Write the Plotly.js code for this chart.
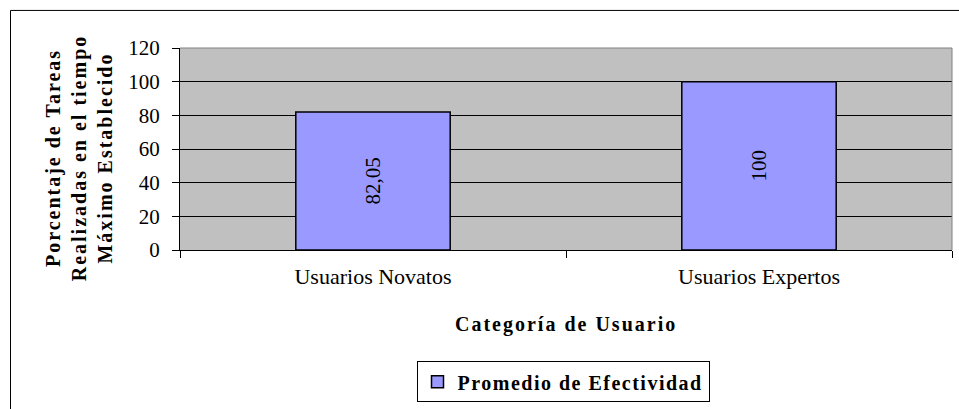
<!DOCTYPE html>
<html>
<head>
<meta charset="utf-8">
<script src="https://cdn.plot.ly/plotly-3.0.1.min.js"></script>
<style>
  html, body { margin: 0; padding: 0; background: #fff; }
  #chart { width: 959px; height: 409px; }
  .annotation-text { letter-spacing: 2px; }
  .legendtext { letter-spacing: 1.5px; }
</style>
</head>
<body>
<div id="chart"></div>
<script>
const categories = ['Usuarios Novatos', 'Usuarios Expertos'];
const values = [82.05, 100];
const seriesName = 'Promedio de Efectividad';
const yTickValues = [0, 20, 40, 60, 80, 100, 120];
const xTitle = 'Categoría de Usuario';
const yTitle = 'Porcentaje de Tareas<br>Realizadas en el tiempo<br>Máximo Establecido';

const labels = values.map(v => String(v).replace('.', ','));
const serif = 'Liberation Serif';

const W = 959, H = 409, L = 180, R = 7, T = 48, B = 154;
const pw = W - L - R, ph = H - T - B;
const px2x = p => (p - L) / pw;
const py2y = p => (H - B - p) / ph;

const trace = {
  type: 'bar',
  x: categories,
  y: values,
  name: seriesName,
  text: labels,
  textposition: 'inside',
  insidetextanchor: 'middle',
  textangle: -90,
  textfont: {family: serif, size: 21, color: '#000'},
  constraintext: 'none',
  marker: {color: '#9999FF', line: {color: '#000', width: 1.5}},
  showlegend: true,
  hoverinfo: 'none'
};

const layout = {
  width: W, height: H,
  margin: {l: L, r: R, t: T, b: B, pad: 0},
  paper_bgcolor: '#fff',
  plot_bgcolor: '#C0C0C0',
  bargap: 0.6,
  font: {family: serif, color: '#000'},
  xaxis: {
    type: 'category',
    showgrid: false,
    showline: true, linecolor: '#000', linewidth: 1,
    ticks: 'outside', tickson: 'boundaries', ticklen: 7, tickcolor: '#000',
    tickfont: {family: serif, size: 22, color: '#000'},
    ticklabelstandoff: 7,
    zeroline: false
  },
  yaxis: {
    range: [0, 120],
    tickvals: yTickValues,
    ticktext: yTickValues.map(String),
    showgrid: true, gridcolor: '#000', gridwidth: 1,
    showline: true, linecolor: '#000', linewidth: 1,
    ticks: 'outside', ticklen: 7, tickcolor: '#000',
    tickfont: {family: serif, size: 21, color: '#000'},
    ticklabelstandoff: 8,
    zeroline: false
  },
  showlegend: true,
  legend: {
    orientation: 'h',
    x: px2x(563), xanchor: 'center',
    y: py2y(369), yanchor: 'top',
    bgcolor: '#fff', bordercolor: '#000', borderwidth: 1,
    font: {family: serif, size: 20, color: '#000', weight: 'bold'}
  },
  annotations: [
    {
      text: xTitle, xref: 'paper', yref: 'paper',
      x: px2x(566), y: py2y(331), xanchor: 'center', yanchor: 'middle',
      showarrow: false,
      font: {family: serif, size: 20, color: '#000', weight: 'bold'}
    },
    {
      text: yTitle, xref: 'paper', yref: 'paper',
      x: px2x(79), y: py2y(161), xanchor: 'center', yanchor: 'middle',
      textangle: -90, showarrow: false, align: 'center',
      font: {family: serif, size: 20, color: '#000', weight: 'bold'}
    }
  ],
  shapes: [
    {type: 'line', xref: 'paper', yref: 'paper', x0: 0, x1: 1, y0: 1, y1: 1, line: {color: '#808080', width: 1}},
    {type: 'line', xref: 'paper', yref: 'paper', x0: 1, x1: 1, y0: 0, y1: 1, line: {color: '#808080', width: 1}},
    {type: 'line', xref: 'paper', yref: 'paper', x0: px2x(10.5), x1: px2x(970), y0: py2y(9.5), y1: py2y(9.5), line: {color: '#000', width: 1}},
    {type: 'line', xref: 'paper', yref: 'paper', x0: px2x(10.5), x1: px2x(10.5), y0: py2y(9.5), y1: py2y(420), line: {color: '#000', width: 1}}
  ]
};

Plotly.newPlot('chart', [trace], layout, {displayModeBar: false, staticPlot: true});
</script>
</body>
</html>
